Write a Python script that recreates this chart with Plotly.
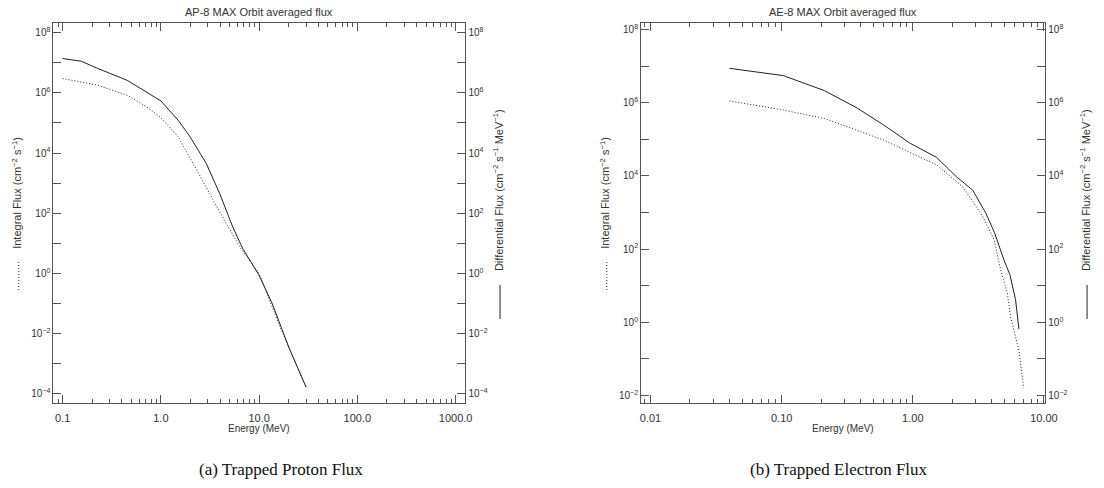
import plotly.graph_objects as go

W, H = 1104, 488

# ---------------- data ----------------
proton_e_diff = [0.1, 0.155, 0.227, 0.455, 1.0, 1.5, 1.98, 2.9, 3.96, 5.39, 6.8, 10.0, 13.6, 20.0, 30.0]
proton_diff = [1.38e7, 1.12e7, 6.5e6, 2.6e6, 5.4e5, 1.23e5, 3.5e4, 4.5e3, 4.6e2, 35, 6.8, 0.87, 0.1, 3.6e-3, 1.7e-4]
proton_e_int = [0.1, 0.227, 0.455, 0.72, 1.0, 1.5, 2.13, 3.14, 4.61, 6.53, 10.0, 15.8, 20.0, 30.0]
proton_int = [3.0e6, 1.8e6, 8.3e5, 3.4e5, 1.5e5, 3.5e4, 4.5e3, 4.6e2, 46, 6.8, 1.0, 0.022, 3.8e-3, 1.7e-4]

electron_e_diff = [0.04, 0.103, 0.212, 0.378, 0.60, 0.955, 1.52, 2.15, 2.86, 3.61, 4.2, 4.96, 5.5, 6.08, 6.44]
electron_diff = [8.7e6, 5.5e6, 2.14e6, 7.1e5, 2.45e5, 7.8e4, 3.2e4, 9.5e3, 4.1e3, 9.5e2, 2.8e2, 50, 20, 4.1, 0.65]
electron_e_int = [0.04, 0.103, 0.212, 0.60, 1.52, 2.41, 3.41, 4.17, 4.68, 5.26, 5.57, 6.44, 7.02]
electron_int = [1.12e6, 6.3e5, 3.7e5, 9.5e4, 2.0e4, 5.0e3, 7.8e2, 1.8e2, 27, 6.2, 1.4, 0.17, 0.016]

# tick labels
proton_x_ticks = [0.1, 1.0, 10.0, 100.0, 1000.0]
proton_x_text = ["0.1", "1.0", "10.0", "100.0", "1000.0"]
electron_x_ticks = [0.01, 0.1, 1.0, 10.0]
electron_x_text = ["0.01", "0.10", "1.00", "10.00"]
proton_y_exps = list(range(-4, 9))
electron_y_exps = list(range(-2, 9))

titles = ["AP-8 MAX Orbit averaged flux", "AE-8 MAX Orbit averaged flux"]
captions = ["(a) Trapped Proton Flux", "(b) Trapped Electron Flux"]
int_title = "Integral Flux (cm<sup>\u22122</sup> s<sup>\u22121</sup>)"
diff_title = "Differential Flux (cm<sup>\u22122</sup> s<sup>\u22121</sup> MeV<sup>\u22121</sup>)"

# ---------------- layout helpers ----------------
def px_x(p):
    return p / W

def px_y(p):
    return 1 - p / H

AXCOL = "#555555"
TXT = "#333333"
YTICKFONT = dict(family="Liberation Sans, Arial, sans-serif", size=10, color=TXT)
XTICKFONT = dict(family="Liberation Sans, Arial, sans-serif", size=11, color=TXT)

def minor_vals(lo_exp, hi_exp):
    vals = []
    for d in range(lo_exp, hi_exp + 1):
        for k in range(2, 10):
            vals.append(k * 10.0 ** d)
    return vals

def ylabels(exps):
    vals = [10.0 ** e for e in exps]
    txt = [("10<sup>%s</sup>" % (str(e).replace("-", "\u2212"))) if e % 2 == 0 else "" for e in exps]
    return vals, txt

fig = go.Figure()

# plot geometry (pixels)
boxes = [
    dict(x0=53, x1=470, y0=23.3, y1=403.3, xr=[-1.094, 3.10], yr=[-4.31, 8.31]),
    dict(x0=647.7, x1=1056.7, y0=23.3, y1=403.3, xr=[-2.072, 1.01], yr=[-2.213, 8.17]),
]

series = [
    (proton_e_diff, proton_diff, proton_e_int, proton_int, proton_x_ticks, proton_x_text, proton_y_exps, (-2, 3)),
    (electron_e_diff, electron_diff, electron_e_int, electron_int, electron_x_ticks, electron_x_text, electron_y_exps, (-3, 1)),
]

layout = {}
for i, (b, s) in enumerate(zip(boxes, series)):
    ed, fd, ei, fi, xt, xtt, yexps, mr = s
    xn = "x" if i == 0 else "x%d" % (i * 2 + 1)
    xa = "xaxis" if i == 0 else "xaxis%d" % (i * 2 + 1)
    yl = "y%d" % (i * 2 + 1) if i > 0 else "y"
    yla = "yaxis" if i == 0 else "yaxis%d" % (i * 2 + 1)
    yr_name = "y%d" % (i * 2 + 2)
    yra = "yaxis%d" % (i * 2 + 2)

    fig.add_trace(go.Scatter(x=ed, y=fd, mode="lines", xaxis=xn, yaxis=yl,
                             line=dict(color="#222222", width=1), showlegend=False))
    fig.add_trace(go.Scatter(x=ei, y=fi, mode="lines", xaxis=xn, yaxis=yl,
                             line=dict(color="#222222", width=1, dash="1px,2px"), showlegend=False))

    layout[xa] = dict(
        type="log", range=b["xr"], domain=[px_x(b["x0"]), px_x(b["x1"])], anchor=yl,
        tickvals=xt, ticktext=xtt, ticks="inside", ticklen=8, tickwidth=1, tickcolor=AXCOL,
        minor=dict(tickvals=minor_vals(mr[0], mr[1]), ticks="inside", ticklen=4, tickcolor=AXCOL, tickwidth=1, showgrid=False),
        showline=True, linecolor=AXCOL, linewidth=1, mirror="ticks", showgrid=False, zeroline=False,
        tickfont=XTICKFONT, ticklabelstandoff=4,
    )
    yv, ytt = ylabels(yexps)
    ycommon = dict(
        type="log", range=b["yr"], domain=[px_y(b["y1"]), px_y(b["y0"])],
        tickvals=yv, ticktext=ytt, ticks="inside", ticklen=8, tickwidth=1, tickcolor=AXCOL,
        showline=True, linecolor=AXCOL, linewidth=1, showgrid=False, zeroline=False,
        tickfont=YTICKFONT,
    )
    layout[yla] = dict(ycommon, anchor=xn, side="left")
    layout[yra] = dict(ycommon, anchor=xn, side="right", overlaying=yl)
    # invisible point so the right-hand axis is drawn
    fig.add_trace(go.Scatter(x=[ed[0]], y=[fd[0]], mode="markers", xaxis=xn, yaxis=yr_name,
                             marker=dict(opacity=0), showlegend=False, hoverinfo="skip"))

fig.update_layout(**layout)

ann = []
shapes = []
small = dict(family="Liberation Sans, Arial, sans-serif", size=11, color=TXT)
energy_font = dict(family="Liberation Sans, Arial, sans-serif", size=10, color=TXT)
for i, b in enumerate(boxes):
    cx = (b["x0"] + b["x1"]) / 2
    ann.append(dict(text=titles[i], x=px_x(cx), y=px_y(12), xref="paper", yref="paper",
                    showarrow=False, xanchor="center", yanchor="middle", font=small))
    ann.append(dict(text="Energy (MeV)", x=px_x(cx), y=px_y(428), xref="paper", yref="paper",
                    showarrow=False, xanchor="center", yanchor="middle", font=energy_font))

left_title_x = [16, 611]
right_title_x = [503, 1097]
for i in range(2):
    ann.append(dict(text=int_title, x=px_x(left_title_x[i]), y=px_y(193), xref="paper", yref="paper",
                    textangle=-90, showarrow=False, xanchor="center", yanchor="middle", font=small))
    shapes.append(dict(type="line", xref="paper", yref="paper",
                       x0=px_x(left_title_x[i] + 2), x1=px_x(left_title_x[i] + 2),
                       y0=px_y(262), y1=px_y(292), line=dict(color="#222222", width=1, dash="1px,2px")))
    ann.append(dict(text=diff_title, x=px_x(right_title_x[i]), y=px_y(190), xref="paper", yref="paper",
                    textangle=-90, showarrow=False, xanchor="center", yanchor="middle", font=small))
    shapes.append(dict(type="line", xref="paper", yref="paper",
                       x0=px_x(right_title_x[i] + 2), x1=px_x(right_title_x[i] + 2),
                       y0=px_y(285), y1=px_y(319), line=dict(color="#222222", width=1)))

caption_x = [283, 848]
for i in range(2):
    ann.append(dict(text=captions[i], x=px_x(caption_x[i]), y=px_y(469), xref="paper", yref="paper",
                    showarrow=False, xanchor="center", yanchor="middle",
                    font=dict(family="Liberation Serif, DejaVu Serif, serif", size=17, color="#111111")))

fig.update_layout(
    width=W, height=H, margin=dict(l=0, r=0, t=0, b=0),
    paper_bgcolor="white", plot_bgcolor="white",
    annotations=ann, shapes=shapes, showlegend=False,
)

fig.write_html("out.html")
